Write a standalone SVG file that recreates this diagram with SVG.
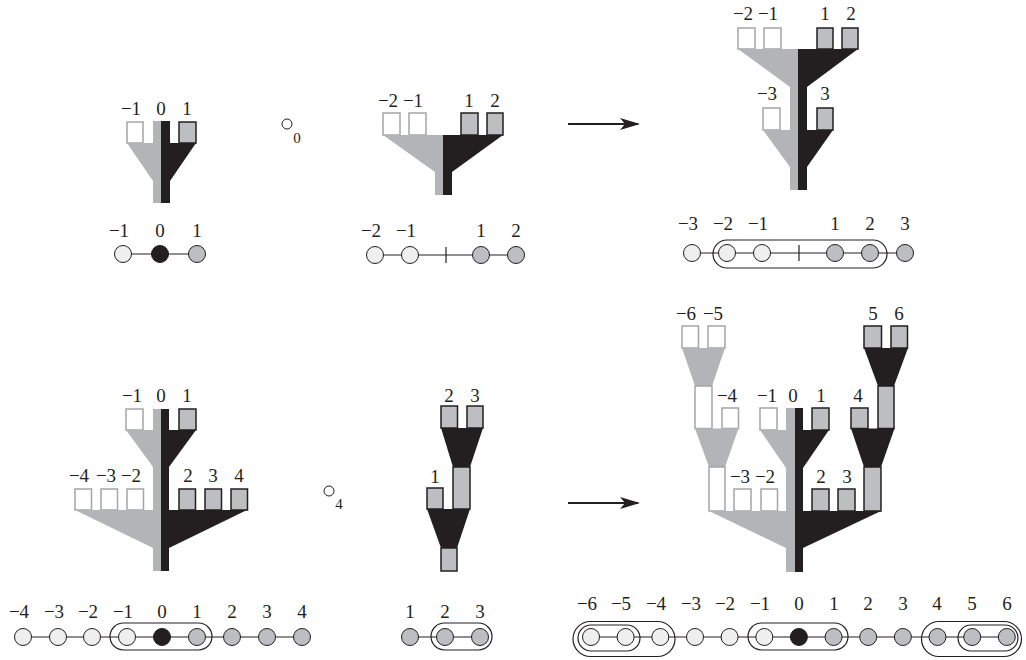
<svg xmlns="http://www.w3.org/2000/svg" width="1026" height="660" viewBox="0 0 1026 660">
<style>
text{font-family:'Liberation Serif','DejaVu Serif',serif;font-size:19px;fill:#231f20;text-anchor:middle}
.sub{font-size:15px}
.w{fill:#fff;stroke:#a3a5a8;stroke-width:1.5}
.g{fill:#bcbec1;stroke:#231f20;stroke-width:1.5}
.gf{fill:#b3b4b7}
.bf{fill:#231f20}
.cl{fill:#efeff0;stroke:#231f20;stroke-width:1}
.cg{fill:#bcbec1;stroke:#231f20;stroke-width:1}
.cb{fill:#231f20;stroke:#231f20;stroke-width:1}
.ln{stroke:#231f20;stroke-width:1.2;fill:none}
.enc{fill:none;stroke:#231f20;stroke-width:1.2}
</style>
<defs>
<marker id="ah" viewBox="0 0 20 12" refX="18" refY="6" markerWidth="20" markerHeight="12" markerUnits="userSpaceOnUse" orient="auto">
<path d="M0,0 L20,6 L0,12 L5,6 Z" fill="#231f20"/>
</marker>
</defs>
<rect width="1026" height="660" fill="#fff"/>

<g id="connectors">
<line x1="568" y1="124" x2="638" y2="124" stroke="#231f20" stroke-width="2" marker-end="url(#ah)"/>
<line x1="568" y1="503" x2="638" y2="503" stroke="#231f20" stroke-width="2" marker-end="url(#ah)"/>
<line class="ln" x1="123" y1="254" x2="197" y2="254"/>
<line class="ln" x1="375" y1="255" x2="516" y2="255"/>
<line class="ln" x1="446" y1="247" x2="446" y2="263"/>
<line class="ln" x1="692" y1="253" x2="905" y2="253"/>
<line class="ln" x1="799" y1="245" x2="799" y2="261"/>
<line class="ln" x1="23" y1="637" x2="302" y2="637"/>
<line class="ln" x1="410" y1="637" x2="480" y2="637"/>
<line class="ln" x1="591" y1="637" x2="1007" y2="637"/>
</g>

<g id="tree1" font-family="Liberation Serif, serif">
<text x="131" y="115">−1</text><text x="161" y="115">0</text><text x="187" y="115">1</text>
<rect class="w" x="127" y="122" width="16" height="21"/>
<rect class="g" x="179" y="122" width="17" height="21"/>
<polygon class="gf" points="127,143 161,143 161,181 153,181"/>
<polygon class="bf" points="161,143 196,143 170,181 161,181"/>
<rect class="gf" x="153" y="121" width="8" height="82"/>
<rect class="bf" x="161" y="121" width="9" height="82"/>
</g>

<g id="op0">
<circle cx="287" cy="124" r="5" fill="#fff" stroke="#231f20" stroke-width="1"/>
<text class="sub" x="297" y="143">0</text>
</g>

<g id="tree2">
<text x="388" y="107">−2</text><text x="413" y="107">−1</text><text x="469" y="107">1</text><text x="495" y="107">2</text>
<rect class="w" x="383" y="113" width="17" height="22"/>
<rect class="w" x="409" y="113" width="17" height="22"/>
<rect class="g" x="461" y="113" width="17" height="22"/>
<rect class="g" x="487" y="113" width="16" height="22"/>
<polygon class="gf" points="383,135 443,135 443,172 435,172"/>
<polygon class="bf" points="443,135 503,135 452,172 443,172"/>
<rect class="gf" x="435" y="172" width="8" height="23"/>
<rect class="bf" x="443" y="172" width="9" height="23"/>
</g>

<g id="tree3">
<text x="743" y="20">−2</text><text x="768" y="20">−1</text><text x="825" y="20">1</text><text x="851" y="20">2</text>
<text x="767" y="100">−3</text><text x="825" y="100">3</text>
<rect class="w" x="738" y="28" width="17" height="21"/>
<rect class="w" x="764" y="28" width="17" height="21"/>
<rect class="g" x="817" y="28" width="16" height="21"/>
<rect class="g" x="842" y="28" width="16" height="21"/>
<polygon class="gf" points="738,49 798,49 798,87 790,87"/>
<polygon class="bf" points="798,49 858,49 807,87 798,87"/>
<rect class="gf" x="790" y="87" width="8" height="43"/>
<rect class="bf" x="798" y="87" width="9" height="43"/>
<rect class="w" x="763" y="108" width="17" height="22"/>
<rect class="g" x="817" y="108" width="16" height="22"/>
<polygon class="gf" points="763,130 798,130 798,167 790,167"/>
<polygon class="bf" points="798,130 833,130 807,167 798,167"/>
<rect class="gf" x="790" y="167" width="8" height="23"/>
<rect class="bf" x="798" y="167" width="9" height="23"/>
</g>

<g id="chain1">
<text x="119" y="237">−1</text><text x="160" y="237">0</text><text x="197" y="237">1</text>
<circle class="cl" cx="123" cy="254" r="8.5"/>
<circle class="cb" cx="160" cy="254" r="8.5"/>
<circle class="cg" cx="197" cy="254" r="8.5"/>
</g>

<g id="chain2">
<text x="371" y="237">−2</text><text x="406" y="237">−1</text><text x="481" y="237">1</text><text x="516" y="237">2</text>
<circle class="cl" cx="375" cy="255" r="8.5"/>
<circle class="cl" cx="410" cy="255" r="8.5"/>
<circle class="cg" cx="481" cy="255" r="8.5"/>
<circle class="cg" cx="516" cy="255" r="8.5"/>
</g>

<g id="chain3">
<text x="688" y="230">−3</text><text x="723" y="230">−2</text><text x="758" y="230">−1</text><text x="835" y="230">1</text><text x="870" y="230">2</text><text x="905" y="230">3</text>
<rect class="enc" x="713" y="240" width="174" height="28" rx="14"/>
<circle class="cl" cx="692" cy="253" r="8.5"/>
<circle class="cl" cx="727" cy="253" r="8.5"/>
<circle class="cl" cx="762" cy="253" r="8.5"/>
<circle class="cg" cx="835" cy="253" r="8.5"/>
<circle class="cg" cx="870" cy="253" r="8.5"/>
<circle class="cg" cx="905" cy="253" r="8.5"/>
</g>

<g id="tree4">
<text x="132" y="402">−1</text><text x="161" y="402">0</text><text x="187" y="402">1</text>
<text x="79" y="482">−4</text><text x="106" y="482">−3</text><text x="131" y="482">−2</text>
<text x="188" y="482">2</text><text x="213" y="482">3</text><text x="239" y="482">4</text>
<rect class="w" x="126" y="409" width="17" height="21"/>
<rect class="g" x="179" y="409" width="17" height="21"/>
<polygon class="gf" points="126,430 161,430 161,467 153,467"/>
<polygon class="bf" points="161,430 196,430 169,467 161,467"/>
<rect class="w" x="75" y="489" width="16.5" height="21"/>
<rect class="w" x="101" y="489" width="16.5" height="21"/>
<rect class="w" x="127" y="489" width="16.5" height="21"/>
<rect class="g" x="179" y="489" width="16.5" height="21"/>
<rect class="g" x="205" y="489" width="16.5" height="21"/>
<rect class="g" x="231" y="489" width="16.5" height="21"/>
<polygon class="gf" points="75,510 161,510 161,548 153,548"/>
<polygon class="bf" points="161,510 247,510 169,548 161,548"/>
<rect class="gf" x="153" y="409" width="8" height="162"/>
<rect class="bf" x="161" y="409" width="8" height="162"/>
</g>

<g id="op4">
<circle cx="329" cy="491" r="5" fill="#fff" stroke="#231f20" stroke-width="1"/>
<text class="sub" x="339" y="509">4</text>
</g>

<g id="tree5">
<text x="449" y="402">2</text><text x="475" y="402">3</text><text x="435" y="483">1</text>
<rect class="g" x="441" y="406" width="16.5" height="22"/>
<rect class="g" x="467" y="406" width="16" height="22"/>
<polygon class="bf" points="441,428 483,428 470,467 453,467"/>
<rect class="g" x="453" y="467" width="17" height="42"/>
<rect class="g" x="427" y="488" width="16" height="21"/>
<polygon class="bf" points="427,509 470,509 457,548 441,548"/>
<rect class="g" x="441" y="548" width="16" height="23"/>
</g>

<g id="tree6">
<text x="686" y="320">−6</text><text x="713" y="320">−5</text><text x="873" y="320">5</text><text x="899" y="320">6</text>
<text x="727" y="402">−4</text><text x="767" y="402">−1</text><text x="793" y="402">0</text><text x="821" y="402">1</text><text x="858" y="402">4</text>
<text x="740" y="483">−3</text><text x="765" y="483">−2</text><text x="821" y="483">2</text><text x="847" y="483">3</text>
<rect class="w" x="682" y="326" width="16.5" height="22"/>
<rect class="w" x="708" y="326" width="17" height="22"/>
<polygon class="gf" points="682,348 725,348 712,386 695,386"/>
<rect class="w" x="695" y="386" width="17" height="42.5"/>
<rect class="w" x="722" y="408" width="16.5" height="20.5"/>
<polygon class="gf" points="695,428.5 738.5,428.5 725,467 709,467"/>
<rect class="w" x="709" y="467" width="16" height="44"/>
<rect class="w" x="734" y="489" width="17" height="22"/>
<rect class="w" x="761" y="489" width="16.5" height="22"/>
<rect class="w" x="760" y="408" width="17" height="22"/>
<rect class="g" x="812" y="408" width="17" height="22"/>
<polygon class="gf" points="760,430 795,430 795,468 786,468"/>
<polygon class="bf" points="795,430 829,430 803,468 795,468"/>
<rect class="g" x="812" y="489" width="17" height="22"/>
<rect class="g" x="838" y="489" width="17" height="22"/>
<rect class="g" x="864" y="326" width="17.5" height="22"/>
<rect class="g" x="891" y="326" width="16.5" height="22"/>
<polygon class="bf" points="864,348 908,348 894,386 878,386"/>
<rect class="g" x="878" y="386" width="16" height="42.5"/>
<rect class="g" x="851" y="408" width="17" height="20.5"/>
<polygon class="bf" points="851,428.5 894.5,428.5 881,467 864,467"/>
<rect class="g" x="864" y="467" width="17" height="44"/>
<polygon class="gf" points="709,511 795,511 795,548 786,548"/>
<polygon class="bf" points="795,511 881,511 803,548 795,548"/>
<rect class="gf" x="786" y="408" width="9" height="164"/>
<rect class="bf" x="795" y="408" width="8" height="164"/>
</g>

<g id="chain4">
<text x="19" y="618">−4</text><text x="54" y="618">−3</text><text x="88" y="618">−2</text><text x="123" y="618">−1</text>
<text x="162" y="618">0</text><text x="197" y="618">1</text><text x="232" y="618">2</text><text x="267" y="618">3</text><text x="302" y="618">4</text>
<rect class="enc" x="110" y="623" width="102" height="27" rx="13.5"/>
<circle class="cl" cx="23" cy="637" r="8.5"/>
<circle class="cl" cx="58" cy="637" r="8.5"/>
<circle class="cl" cx="92" cy="637" r="8.5"/>
<circle class="cl" cx="127" cy="637" r="8.5"/>
<circle class="cb" cx="162" cy="637" r="8.5"/>
<circle class="cg" cx="197" cy="637" r="8.5"/>
<circle class="cg" cx="232" cy="637" r="8.5"/>
<circle class="cg" cx="267" cy="637" r="8.5"/>
<circle class="cg" cx="302" cy="637" r="8.5"/>
</g>

<g id="chain5">
<text x="410" y="618">1</text><text x="445" y="618">2</text><text x="480" y="618">3</text>
<rect class="enc" x="431" y="623" width="61" height="27" rx="13.5"/>
<circle class="cg" cx="410" cy="637" r="8.5"/>
<circle class="cg" cx="445" cy="637" r="8.5"/>
<circle class="cg" cx="480" cy="637" r="8.5"/>
</g>

<g id="chain6">
<text x="587" y="610">−6</text><text x="621" y="610">−5</text><text x="656" y="610">−4</text><text x="691" y="610">−3</text><text x="725" y="610">−2</text><text x="760" y="610">−1</text>
<text x="799" y="610">0</text><text x="834" y="610">1</text><text x="868" y="610">2</text><text x="903" y="610">3</text><text x="937" y="610">4</text><text x="972" y="610">5</text><text x="1007" y="610">6</text>
<rect class="enc" x="573" y="621.5" width="102" height="35" rx="17.5"/>
<rect class="enc" x="578" y="625" width="62" height="26" rx="13"/>
<rect class="enc" x="748" y="623" width="100" height="27" rx="13.5"/>
<rect class="enc" x="921.5" y="621.5" width="100" height="35" rx="17.5"/>
<rect class="enc" x="958" y="625" width="60" height="26" rx="13"/>
<circle class="cl" cx="591" cy="637" r="8.5"/>
<circle class="cl" cx="625.6" cy="637" r="8.5"/>
<circle class="cl" cx="660.3" cy="637" r="8.5"/>
<circle class="cl" cx="695" cy="637" r="8.5"/>
<circle class="cl" cx="729.6" cy="637" r="8.5"/>
<circle class="cl" cx="764.3" cy="637" r="8.5"/>
<circle class="cb" cx="798.9" cy="637" r="8.5"/>
<circle class="cg" cx="833.6" cy="637" r="8.5"/>
<circle class="cg" cx="868.2" cy="637" r="8.5"/>
<circle class="cg" cx="902.9" cy="637" r="8.5"/>
<circle class="cg" cx="937.5" cy="637" r="8.5"/>
<circle class="cg" cx="972.2" cy="637" r="8.5"/>
<circle class="cg" cx="1006.8" cy="637" r="8.5"/>
</g>
</svg>
